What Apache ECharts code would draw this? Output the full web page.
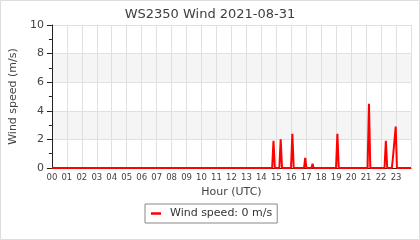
<!DOCTYPE html>
<html><head><meta charset="utf-8">
<script src="https://cdn.jsdelivr.net/npm/echarts@6/dist/echarts.min.js"></script>
<style>html,body{margin:0;padding:0;background:#fff}#c{width:420px;height:240px}</style>
</head><body><div id="c"></div>
<script>
const titleText = 'WS2350 Wind 2021-08-31';
const seriesName = 'Wind speed: 0 m/s';
const hours  = [0, 14.72, 14.81, 14.9, 15.2, 15.29, 15.38, 15.98, 16.07, 16.16, 16.85, 16.93, 17.01, 17.35, 17.42, 17.49, 18.99, 19.08, 19.17, 21.1, 21.19, 21.28, 22.23, 22.32, 22.41, 22.72, 22.79, 22.9, 22.98, 23.06, 24];
const speeds = [0, 0,     1.9,   0,    0,    2.0,   0,     0,     2.4,   0,     0,     0.7,   0,     0,     0.3,   0,     0,     2.4,   0,     0,    4.5,   0,     0,     1.9,   0,     0,     0.7,   0.7,  2.9,   0,     0];
const yTicks = [0, 2, 4, 6, 8, 10];
const xTickLabels = ['00','01','02','03','04','05','06','07','08','09','10','11','12','13','14','15','16','17','18','19','20','21','22','23'];

const chart = echarts.init(document.getElementById('c'), null, {renderer:'canvas'});
const F = 'DejaVu Sans';
chart.setOption({
  animation: false,
  backgroundColor: '#fff',
  textStyle: {fontFamily: F},
  graphic: [{type: 'rect', silent: true, z: 100, shape: {x: 0.5, y: 0.5, width: 419, height: 239},
    style: {fill: 'none', stroke: '#dddddd', lineWidth: 1}}],
  title: {text: titleText, left: 'center', top: 3, textStyle: {fontFamily: F, fontSize: 13, fontWeight: 'normal', color: '#404040'}},
  grid: {left: 50, right: 9, top: 25, bottom: 72},
  legend: {
    left: 145, top: 204, padding: [4, 5, 4, 6], borderColor: '#888', borderWidth: 1, borderRadius: 0,
    icon: 'rect', itemWidth: 10, itemHeight: 2.5, itemGap: 6,
    textStyle: {fontFamily: F, fontSize: 11, color: '#333', padding: [0, 0, 0, 4]},
    data: [seriesName]
  },
  xAxis: {
    type: 'value', min: 0, max: 24, interval: 1,
    name: 'Hour (UTC)', nameLocation: 'middle', nameGap: 17,
    nameTextStyle: {fontFamily: F, fontSize: 11, color: '#444'},
    axisLine: {show: true, lineStyle: {color: '#222', width: 1}},
    axisTick: {show: false},
    axisLabel: {margin: 5, fontFamily: F, fontSize: 8.5, color: '#444',
      formatter: v => (xTickLabels[v] !== undefined ? xTickLabels[v] : '')},
    splitLine: {show: true, lineStyle: {color: '#e0e0e0', width: 1}}
  },
  yAxis: {
    type: 'value', min: yTicks[0], max: yTicks[yTicks.length-1], interval: 2,
    name: 'Wind speed (m/s)', nameLocation: 'middle', nameGap: 28,
    nameTextStyle: {fontFamily: F, fontSize: 11, color: '#444'},
    axisLine: {show: true, lineStyle: {color: '#222', width: 1}},
    axisTick: {show: true, length: 5, lineStyle: {color: '#222'}},
    minorTick: {show: true, splitNumber: 2, length: 3, lineStyle: {color: '#222'}},
    axisLabel: {margin: 8, fontFamily: F, fontSize: 11, color: '#444'},
    splitLine: {show: true, lineStyle: {color: '#e0e0e0', width: 1}},
    splitArea: {show: true, areaStyle: {color: ['rgba(255,255,255,0)', '#f5f5f5']}}
  },
  series: [{
    name: seriesName, type: 'line', showSymbol: false, symbol: 'none',
    lineStyle: {color: '#ff0000', width: 2}, itemStyle: {color: '#ff0000'},
    data: hours.map((h, i) => [h, speeds[i]])
  }]
});
</script></body></html>
